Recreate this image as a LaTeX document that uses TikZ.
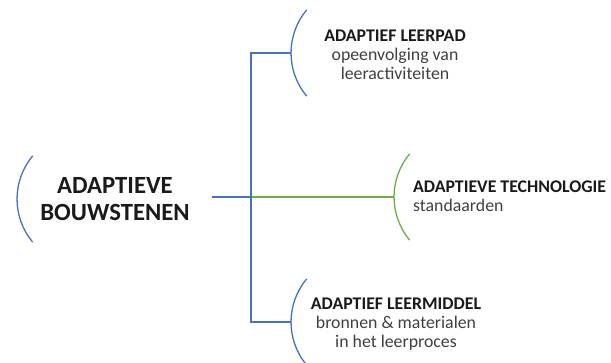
\documentclass[tikz,border=0pt]{standalone}
\usepackage{fontspec}
\setmainfont{Carlito}
\definecolor{obl}{HTML}{4472C4}
\definecolor{ogr}{HTML}{70AD47}
\definecolor{headc}{HTML}{1A1A1A}
\definecolor{subc}{HTML}{404040}
\begin{document}
\begin{tikzpicture}[x=1pt,y=-1pt,
  blueline/.style={draw=obl,line width=1.3pt},
  greenline/.style={draw=ogr,line width=1.3pt},
  txt/.style={inner sep=0pt,font=\fontsize{17.8}{19}\selectfont,text=subc},
  pics/bracearc/.style={code={
    \path[pic actions] (15.7,-43.1) .. controls (-5.2,-18.2) and (-5.2,18.2) .. (15.7,43.1);}}
]
\clip (0,0) rectangle (611,362);
\fill[white] (0,0) rectangle (611,362);
% arcs
\pic[blueline] at (17,199) {bracearc};
\pic[blueline] at (291,53) {bracearc};
\pic[blueline] at (291,322) {bracearc};
\pic[greenline] at (394,197) {bracearc};
% junction coordinates
\coordinate (mainR) at (212,197);
\coordinate (hub) at (251,197);
\coordinate (topJ) at (251,53);
\coordinate (botJ) at (251,322);
\coordinate (topA) at (291,53);
\coordinate (botA) at (291,322);
\coordinate (grA) at (394,197);
% texts
\node[inner sep=0pt,font=\fontsize{24.7}{27}\selectfont\bfseries,text=headc,align=center] (main) at (115,199) {ADAPTIEVE\\BOUWSTENEN};
\node[txt,align=center,anchor=north] (pad) at (395,30) {\textcolor{headc}{\bfseries ADAPTIEF LEERPAD}\\opeenvolging van\\leeractiviteiten};
\node[txt,align=left,anchor=north west] (tech) at (413,181) {\textcolor{headc}{\bfseries ADAPTIEVE TECHNOLOGIE}\\standaarden};
\node[txt,align=center,anchor=north] (mid) at (396,298) {\textcolor{headc}{\bfseries ADAPTIEF LEERMIDDEL}\\bronnen \& materialen\\in het leerproces};
% connectors
\draw[blueline] (mainR) -- (hub);
\draw[greenline] (hub) -- (grA);
\draw[blueline] (topA) -- (topJ) -- (botJ) -- (botA);
\end{tikzpicture}
\end{document}
